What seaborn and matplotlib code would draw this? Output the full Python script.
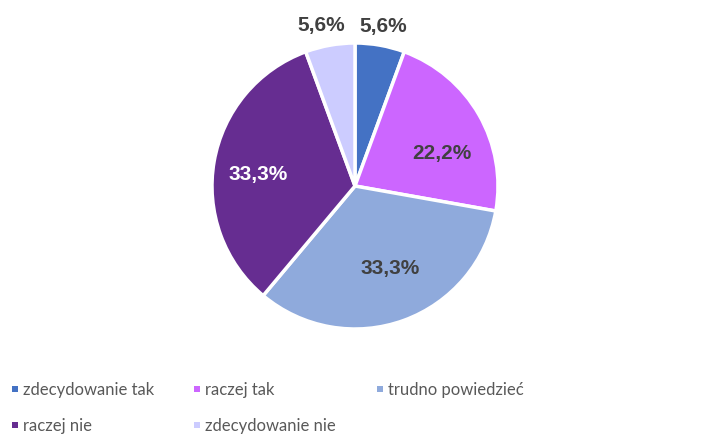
import matplotlib
matplotlib.use("Agg")
import matplotlib.pyplot as plt
from matplotlib.patches import Rectangle
import numpy as np
import seaborn as sns

# Survey answer shares (percent)
categories = ["zdecydowanie tak", "raczej tak", "trudno powiedzieć",
              "raczej nie", "zdecydowanie nie"]
shares = [5.6, 22.2, 33.3, 33.3, 5.6]
value_labels = ["5,6%", "22,2%", "33,3%", "33,3%", "5,6%"]

colors = ["#4472C4", "#CC66FF", "#8FAADC", "#662D91", "#CCCCFF"]
label_colors = ["#404040", "#404040", "#404040", "#FFFFFF", "#404040"]
# label placement: (radius as fraction of pie radius, angular offset in degrees)
label_place = [(1.14, 0), (0.65, -8.6), (0.62, 3.4), (0.685, 2.4), (1.15, 1.6)]

sns.set_theme(style="white")
plt.rcParams["font.family"] = ["Liberation Sans", "DejaVu Sans"]

W, H = 715, 435
fig = plt.figure(figsize=(W / 100, H / 100), dpi=100)
fig.patch.set_facecolor("white")

cx, cy, r = 355, 187, 143
ax = fig.add_axes([(cx - r) / W, (H - cy - r) / H, 2 * r / W, 2 * r / H])

wedges, _ = ax.pie(shares, colors=colors, startangle=90, counterclock=False,
                   radius=1, wedgeprops=dict(edgecolor="white", linewidth=2.5))
ax.set_xlim(-1, 1)
ax.set_ylim(-1, 1)
ax.set_aspect("equal")
ax.axis("off")

total = sum(shares)
angle = 90.0
for val, lab, col, (rad, off) in zip(shares, value_labels, label_colors, label_place):
    span = 360.0 * val / total
    mid = np.deg2rad(angle - span / 2 + off)
    angle -= span
    ax.text(rad * np.cos(mid), rad * np.sin(mid), lab, ha="center", va="center",
            fontsize=15, fontweight="bold", color=col, clip_on=False)

# Legend laid out in three equal columns below the pie
legend_font = ["Lato", "DejaVu Sans"]
col_x = [12, 194, 377]
row_y = [390, 426]
for i, (name, col) in enumerate(zip(categories, colors)):
    x = col_x[i % 3]
    y = row_y[i // 3]
    fig.patches.append(Rectangle((x / W, (H - y - 3) / H), 6 / W, 6 / H,
                                 transform=fig.transFigure, facecolor=col,
                                 edgecolor="none"))
    fig.text((x + 11) / W, (H - y) / H, name, ha="left", va="center",
             fontsize=12, color="#595959", family=legend_font)

fig.savefig("out.png", dpi=100, facecolor="white")
